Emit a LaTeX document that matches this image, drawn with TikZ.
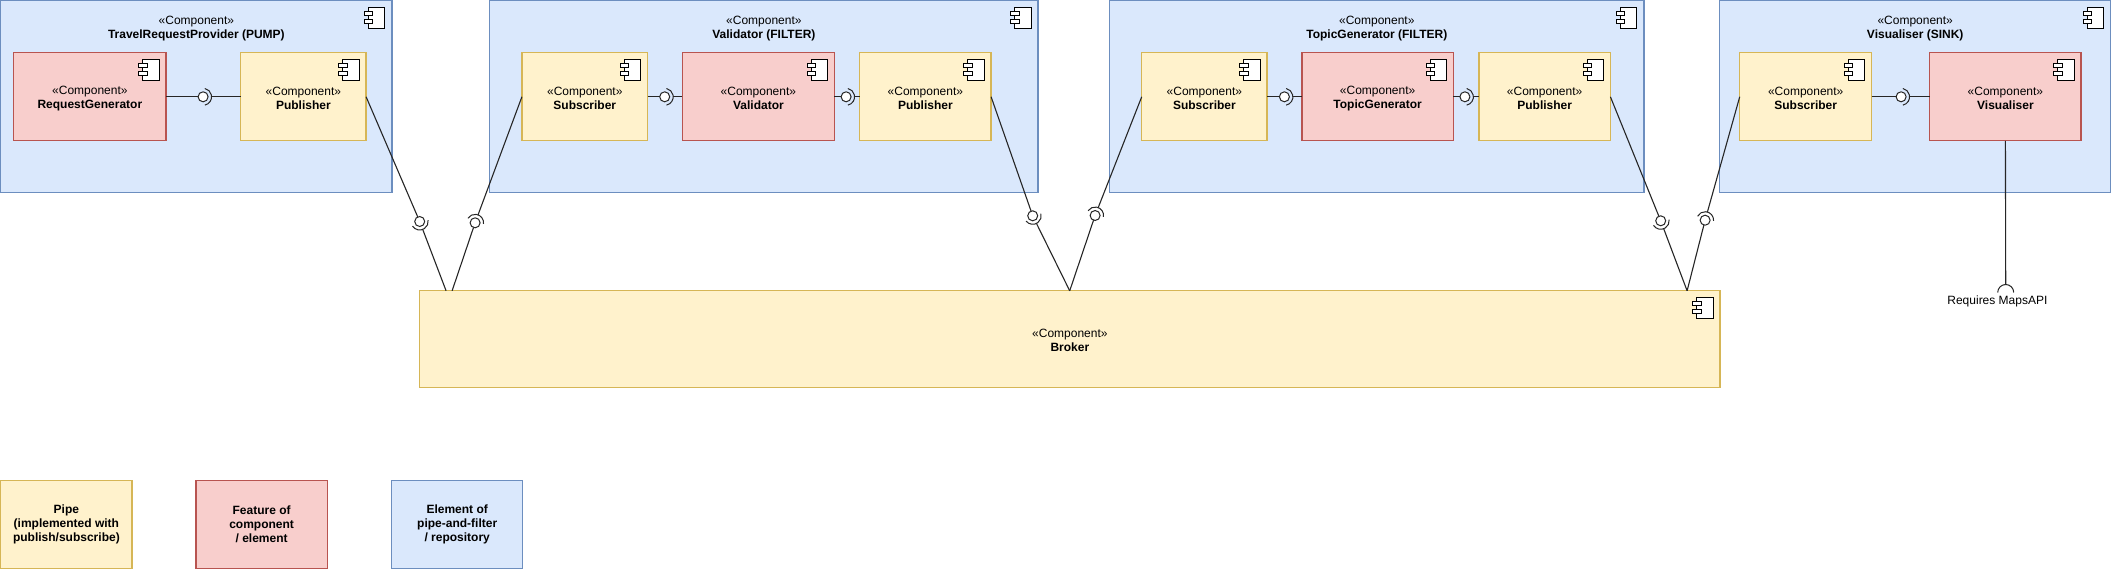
\documentclass[tikz,border=0pt]{standalone}
\usepackage{fontspec}
\setmainfont{Liberation Sans}
\definecolor{bluef}{HTML}{DAE8FC}\definecolor{blued}{HTML}{6C8EBF}
\definecolor{redf}{HTML}{F8CECC}\definecolor{redd}{HTML}{B85450}
\definecolor{yelf}{HTML}{FFF2CC}\definecolor{yeld}{HTML}{D6B656}
\tikzset{
 boxbase/.style={rectangle,anchor=north west,outer sep=0pt,inner sep=0pt,line width=1.3pt,align=center,font=\fontsize{12}{14}\selectfont},
 elem/.style={boxbase,draw=blued,fill=bluef},
 feat/.style={boxbase,draw=redd,fill=redf},
 pipe/.style={boxbase,draw=yeld,fill=yelf},
 textlabel/.style={inner sep=0pt,align=center,font=\fontsize{12}{14}\selectfont},
 wire/.style={line width=1.1pt,draw=black!85},
 ball/.style={circle,draw=black!85,fill=white,line width=1pt,minimum size=10pt,inner sep=0pt,outer sep=0pt},
 socket/.style={circle,minimum size=17pt,inner sep=0pt,outer sep=0pt},
 sockarc/.style={draw=black!85,line width=1pt},
 iconb/.style={draw=black,fill=white,line width=1.1pt}
}
\newcommand{\compicon}[1]{%
 \begin{scope}[shift={(#1.north east)}]
  \draw[iconb] (-23.3,7) rectangle (-7,27.3);
  \draw[iconb] (-27.3,11) rectangle (-19,15);
  \draw[iconb] (-27.3,19) rectangle (-19,23);
 \end{scope}}
% name, style, x1, y1, x2, y2, text
\newcommand{\compbox}[7]{%
 \node[#2,minimum width={(#5-#3)*1pt},minimum height={(#6-#4)*1pt}] (#1) at (#3,#4) {#7};
 \compicon{#1}}
\newcommand{\comptext}[1]{\rule{0pt}{11pt}«Component»\\\textbf{#1}}
% name, x, y, angle of the socket's middle
\newcommand{\joint}[4]{%
 \node[socket] (#1-s) at (#2,#3) {};
 \draw[sockarc] (#1-s.center) ++({#4-78}:8.5pt) arc[start angle={#4-78},end angle={#4+78},radius=8.5pt];
 \node[ball] (#1) at (#2,#3) {};}
\begin{document}
\begin{tikzpicture}[x=1pt,y=-1pt]
\useasboundingbox (0,0) rectangle (2111,569);
\fill[white] (0,0) rectangle (2111,569);
\begin{scope}[shift={(0.4,0.5)}]
% outer elements
\compbox{provider}{elem}{0.3}{0.3}{391.5}{192}{}
\node[textlabel] (providert) at (196,27) {\comptext{TravelRequestProvider (PUMP)}};
\compbox{validator}{elem}{489.3}{0.3}{1037.7}{192}{}
\node[textlabel] (validatort) at (763.5,27) {\comptext{Validator (FILTER)}};
\compbox{topic}{elem}{1109.3}{0.3}{1643.5}{192}{}
\node[textlabel] (topict) at (1376.4,27) {\comptext{TopicGenerator (FILTER)}};
\compbox{visual}{elem}{1719.3}{0.3}{2110}{192}{}
\node[textlabel] (visualt) at (1914.8,27) {\comptext{Visualiser (SINK)}};
% inner
\compbox{rg}{feat}{13.3}{52.3}{165.7}{140.3}{\comptext{RequestGenerator}}
\compbox{pub1}{pipe}{240.3}{52.3}{365.7}{140.3}{\comptext{Publisher}}
\compbox{sub2}{pipe}{521.5}{52.3}{647.3}{140.3}{\comptext{Subscriber}}
\compbox{val}{feat}{682}{52.3}{834}{140.3}{\comptext{Validator}}
\compbox{pub2}{pipe}{859.3}{52.3}{990.7}{140.3}{\comptext{Publisher}}
\compbox{sub3}{pipe}{1141.3}{52.3}{1266.7}{140.3}{\comptext{Subscriber}}
\compbox{tg}{feat}{1301.5}{52.3}{1453}{140.3}{\comptext{TopicGenerator}}
\compbox{pub3}{pipe}{1478.5}{52.3}{1610}{140.3}{\comptext{Publisher}}
\compbox{sub4}{pipe}{1739.3}{52.3}{1871.3}{140.3}{\comptext{Subscriber}}
\compbox{vis}{feat}{1929.3}{52.3}{2080.7}{140.3}{\comptext{Visualiser}}
% broker
\compbox{broker}{pipe}{419.3}{290.3}{1719.7}{386.7}{\comptext{Broker}}
% legend
\node[pipe,minimum width=131.4pt,minimum height=87.7pt] (lpipe) at (0.3,480.3) {\textbf{Pipe}\\\textbf{(implemented with}\\\textbf{publish/subscribe)}};
\node[feat,minimum width=131.4pt,minimum height=87.7pt] (lfeat) at (195.5,480.3) {\textbf{Feature of}\\\textbf{component}\\\textbf{/ element}};
\node[elem,minimum width=131pt,minimum height=87.7pt] (lelem) at (391.3,480.3) {\textbf{Element of}\\\textbf{pipe-and-filter}\\\textbf{/ repository}};
% joints
\joint{j1}{202.7}{96.3}{0}
\joint{j2}{664.3}{96.3}{0}
\joint{j3}{845.7}{96.3}{0}
\joint{j4}{1284}{96.3}{0}
\joint{j5}{1464.5}{96.3}{0}
\joint{j6}{1900.7}{96.3}{0}
\joint{d1}{419.3}{221}{-69}
\joint{d2}{474.7}{222.3}{70}
\joint{d3}{1032.3}{215.3}{-64}
\joint{d4}{1094.7}{215}{68}
\joint{d5}{1660.3}{220.3}{-70}
\joint{d6}{1704.7}{219.7}{74}
% points on the broker
\coordinate (k1) at (445.7,290.3);
\coordinate (k2) at (451.7,290.3);
\coordinate (k3) at (1069.3,290.3);
\coordinate (k4) at (1686.7,290.3);
% horizontal wires
\draw[wire] (rg.east) -- (j1);   \draw[wire] (j1-s) -- (pub1.west);
\draw[wire] (sub2.east) -- (j2); \draw[wire] (j2-s) -- (val.west);
\draw[wire] (val.east) -- (j3);  \draw[wire] (j3-s) -- (pub2.west);
\draw[wire] (sub3.east) -- (j4); \draw[wire] (j4-s) -- (tg.west);
\draw[wire] (tg.east) -- (j5);   \draw[wire] (j5-s) -- (pub3.west);
\draw[wire] (sub4.east) -- (j6); \draw[wire] (j6-s) -- (vis.west);
% diagonal wires
\draw[wire] (pub1.east) -- (d1); \draw[wire] (d1-s) -- (k1);
\draw[wire] (k2) -- (d2);        \draw[wire] (d2-s) -- (sub2.west);
\draw[wire] (pub2.east) -- (d3); \draw[wire] (d3-s) -- (k3);
\draw[wire] (k3) -- (d4);        \draw[wire] (d4-s) -- (sub3.west);
\draw[wire] (pub3.east) -- (d5); \draw[wire] (d5-s) -- (k4);
\draw[wire] (k4) -- (d6);        \draw[wire] (d6-s) -- (sub4.west);
% required interface
\coordinate (reqtop) at (2005.3,284);
\draw[wire] (vis.south) -- (reqtop);
\draw[sockarc] (1997.3,292) arc[start angle=180,end angle=0,radius=8pt];
\node[textlabel] (req) at (1997,301) {Requires MapsAPI};
\end{scope}
\end{tikzpicture}
\end{document}
